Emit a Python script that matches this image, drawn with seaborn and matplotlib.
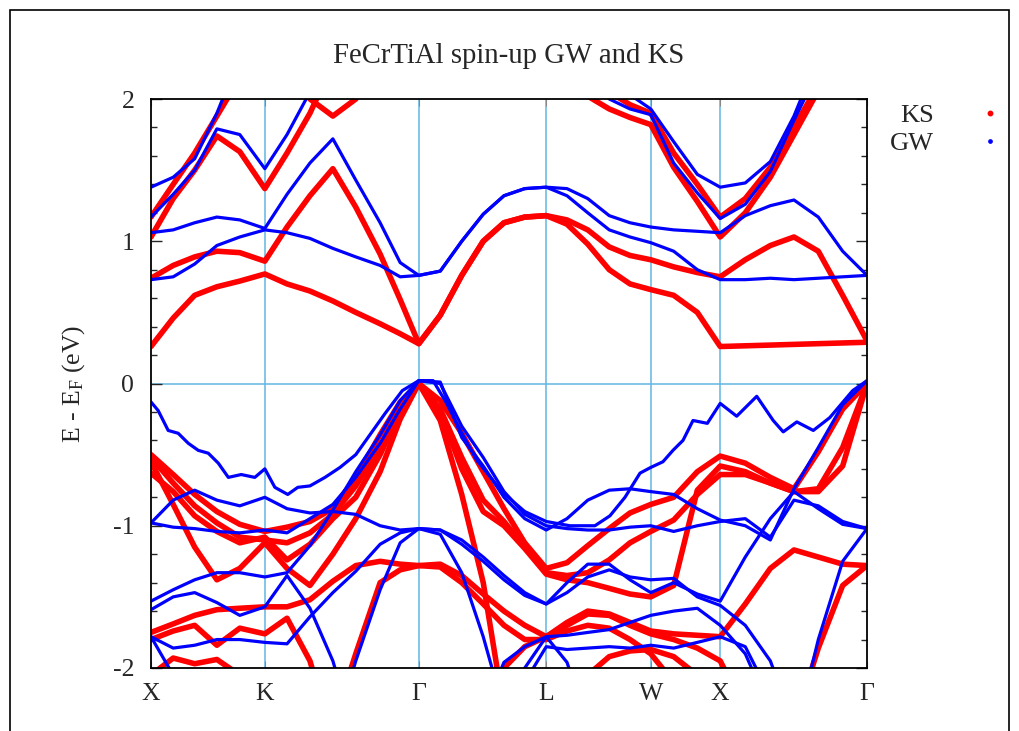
import numpy as np
import pandas as pd
import matplotlib
matplotlib.use("Agg")
import matplotlib.pyplot as plt
import seaborn as sns
from matplotlib.lines import Line2D
from matplotlib.patches import Rectangle
from matplotlib.ticker import MultipleLocator

_ = None

# ---------------- k-path ----------------
SYM_POS = [0.0, 0.1592, 0.3743, 0.5517, 0.6983, 0.7947, 1.0]
SYM_LABELS = ["X", "K", "Γ", "L", "W", "X", "Γ"]
K_GRID = [0.000, 0.031, 0.061, 0.092, 0.124, 0.159, 0.190, 0.222, 0.254, 0.286, 0.320,
          0.348, 0.374, 0.404, 0.434, 0.464, 0.493, 0.522, 0.552, 0.581, 0.610, 0.640,
          0.669, 0.698, 0.730, 0.763, 0.795, 0.830, 0.865, 0.898, 0.932, 0.966, 1.000]

# ---------------- KS bands (eV) ----------------
ks_c1 = [0.26, 0.46, 0.62, 0.68, 0.72, 0.77, 0.70, 0.65, 0.58, 0.50, 0.42, 0.35, 0.28, 0.48, 0.76, 1.00, 1.13,
         1.17, 1.18, 1.12, 0.98, 0.80, 0.70, 0.66, 0.62, 0.50, 0.26, 0.265, 0.27, 0.275, 0.28, 0.285, 0.29]
ks_c2 = [0.74, 0.83, 0.89, 0.93, 0.92, 0.86, 1.10, 1.32, 1.51, 1.24, 0.91, 0.59, 0.28, 0.48, 0.76, 1.00, 1.13,
         1.17, 1.18, 1.15, 1.08, 0.96, 0.90, 0.87, 0.82, 0.78, 0.75, 0.87, 0.97, 1.03, 0.93, 0.62, 0.30]
ks_c3 = [1.03, 1.30, 1.50, 1.74, 1.63, 1.37, 1.62, 1.90, 2.25] + [_] * 24
ks_c4 = [1.17, 1.40, 1.62, 1.88, 2.15] + [_] * 28
ks_c5 = [_] * 6 + [2.30, 2.00, 1.88, 2.00, 2.30] + [_] * 22
ks_c6 = [_] * 19 + [2.30, 2.02, 1.93, 1.87, 1.82, 1.52, 1.28, 1.03, 1.20, 1.45, 1.75, 2.06] + [_] * 2
ks_c7 = [_] * 20 + [2.20, 2.05, 1.96, 1.90, 1.62, 1.40, 1.17, 1.30, 1.52, 1.80, 2.10] + [_] * 2

ks_v1 = [-0.50, -0.64, -0.78, -0.90, -0.99, -1.04, -1.01, -0.97, -0.88, -0.66, -0.36, -0.13, 0.00, -0.12,
         -0.35, -0.62, -0.88, -1.12, -1.30, -1.26, -1.14, -1.02, -0.91, -0.85, -0.80, -0.62, -0.51, -0.56,
         -0.66, -0.74, -0.48, -0.18, 0.00]
ks_v2 = [-0.63, -0.76, -0.93, -1.04, -1.12, -1.08, -1.24, -1.13, -0.95, -0.80, -0.50, -0.20, 0.00, -0.18,
         -0.52, -0.82, -0.97, -1.15, -1.33, -1.35, -1.33, -1.24, -1.12, -1.04, -0.96, -0.78, -0.64, -0.64,
         -0.70, -0.76, -0.74, -0.45, 0.00]
ks_v3 = [-0.55, -0.85, -1.15, -1.38, -1.30, -1.12, -1.30, -1.42, -1.20, -0.95, -0.62, -0.25, 0.00, -0.26,
         -0.78, -1.40, -2.30] + [_] * 16
ks_v4 = [-1.75, -1.69, -1.63, -1.59, -1.58, -1.57, -1.57, -1.52, -1.39, -1.28, -1.25, -1.27, -1.28, -1.27,
         -1.35, -1.48, -1.60, -1.70, -1.78, -1.68, -1.60, -1.62, -1.68, -1.74, -1.76, -1.77, -1.78, -1.55,
         -1.30, -1.17, -1.22, -1.27, -1.28]
ks_v5a = [_] * 8 + [-2.40, -1.90, -1.40, -1.31, -1.28, -1.29, -1.40, -1.55, -1.70, -1.80, -1.80, -1.74,
                    -1.70, -1.72, -1.80, -1.90, -2.10, -2.40] + [_] * 7
ks_v5b = [_] * 29 + [-2.40, -1.86, -1.42, -1.28]
ks_v6 = [-0.52, -0.70, -0.86, -0.98, -1.08, -1.10, -1.12, -1.05, -0.92, -0.72, -0.45, -0.16, 0.00, -0.20,
         -0.60, -0.90, -1.00, -1.16, -1.34, -1.38, -1.40, -1.44, -1.48, -1.50, -1.42, -0.75, -0.58, -0.62,
         -0.70, -0.76, -0.76, -0.58, 0.00]
ks_v7 = [-1.80, -1.74, -1.70, -1.84, -1.72, -1.76, -1.65, -1.95, -2.50] + [_] * 24
ks_v8 = [-2.05, -1.93, -1.97, -1.94, -2.05, -2.30] + [_] * 27
ks_v9 = [_] * 15 + [-2.30, -2.00, -1.85, -1.78, -1.70, -1.62, -1.63, -1.70, -1.76, -1.80, -1.86, -1.95,
                    -2.30] + [_] * 5
ks_v10 = [_] * 19 + [-2.40, -2.05, -1.92, -1.88, -1.87, -1.92, -2.05, -2.30] + [_] * 6

# ---------------- GW bands (eV) ----------------
gw_c1 = [0.73, 0.75, 0.84, 0.97, 1.03, 1.08, 1.06, 1.02, 0.95, 0.89, 0.83, 0.75, 0.76, 0.79, 1.00, 1.19, 1.32,
         1.37, 1.38, 1.32, 1.20, 1.08, 1.03, 0.99, 0.93, 0.80, 0.73, 0.73, 0.74, 0.73, 0.74, 0.75, 0.76]
gw_c2 = [1.06, 1.08, 1.13, 1.17, 1.15, 1.09, 1.33, 1.55, 1.72, 1.43, 1.13, 0.85, 0.76, 0.79, 1.00, 1.19, 1.32,
         1.37, 1.38, 1.37, 1.30, 1.18, 1.13, 1.10, 1.08, 1.07, 1.06, 1.18, 1.25, 1.29, 1.17, 0.93, 0.76]
gw_c3 = [1.17, 1.33, 1.50, 1.79, 1.75, 1.51, 1.75, 2.05] + [_] * 25
gw_c4 = [1.38, 1.45, 1.58, 1.90, 2.30] + [_] * 28
gw_c5 = [_] * 20 + [2.20, 2.00, 1.93, 1.89, 1.55, 1.34, 1.16, 1.26, 1.49, 1.85, 2.20] + [_] * 2
gw_c6 = [_] * 21 + [2.20, 2.03, 1.93, 1.70, 1.47, 1.38, 1.41, 1.56, 1.88, 2.30] + [_] * 2

gw_v1_k = [0.000, 0.010, 0.024, 0.038, 0.052, 0.066, 0.080, 0.094, 0.108, 0.126, 0.145, 0.159, 0.173,
           0.191, 0.205, 0.222, 0.243, 0.264, 0.286, 0.303, 0.327, 0.351, 0.374, 0.394, 0.413, 0.432,
           0.455, 0.492, 0.522, 0.552, 0.585, 0.620, 0.641, 0.662, 0.683, 0.698, 0.715, 0.729, 0.743,
           0.757, 0.777, 0.795, 0.818, 0.846, 0.869, 0.883, 0.902, 0.925, 0.948, 0.980, 1.000]
gw_v1_e = [-0.13, -0.19, -0.33, -0.35, -0.42, -0.47, -0.49, -0.56, -0.66, -0.64, -0.66, -0.60, -0.73,
           -0.78, -0.73, -0.72, -0.66, -0.59, -0.50, -0.38, -0.21, -0.05, 0.02, 0.02, -0.14, -0.33,
           -0.54, -0.77, -0.90, -0.97, -1.00, -1.00, -0.93, -0.80, -0.63, -0.59, -0.55, -0.47, -0.40,
           -0.26, -0.28, -0.14, -0.23, -0.09, -0.26, -0.34, -0.27, -0.33, -0.24, -0.05, 0.02]
gw_v2 = [-0.98, -0.82, -0.75, -0.82, -0.86, -0.80, -0.88, -0.91, -0.90, -0.92, -1.00, -1.03, -1.02, -1.03,
         -1.13, -1.25, -1.38, -1.49, -1.55, -1.40, -1.27, -1.27, -1.38, -1.47, -1.40, -1.48, -1.53, -1.22,
         -0.95, -0.76, -0.88, -0.99, -1.02]
gw_v3 = [-1.53, -1.45, -1.38, -1.33, -1.33, -1.36, -1.33, -1.14, -0.89, -0.62, -0.36, -0.12, 0.02, 0.01,
         -0.38, -0.58, -0.80, -0.95, -1.03, -0.95, -0.82, -0.75, -0.74, -0.76, -0.78, -0.88, -0.96, -1.00,
         -1.10, -0.74, -0.45, -0.15, 0.02]
gw_v4 = [-0.98, -1.01, -1.02, -1.04, -1.05, -1.03, -1.05, -0.95, -0.85, -0.66, -0.42, -0.18, 0.02, 0.00,
         -0.30, -0.52, -0.76, -0.92, -1.00, -1.02, -1.03, -1.03, -1.01, -1.00, -1.04, -1.00, -0.97, -0.95,
         -1.08, -0.82, -0.86, -0.97, -1.02]
gw_v5a = [-1.78, -1.86, -1.84, -1.80, -1.80, -1.82, -1.83, -1.64, -1.47, -1.32, -1.13, -1.05, -1.02, -1.06,
          -1.33, -1.78, -2.30] + [_] * 16
gw_v5b = [_] * 29 + [-2.50, -1.80, -1.25, -1.02]
gw_v6 = [-1.59, -1.50, -1.47, -1.54, -1.63, -1.57, -1.35, -1.58, -1.95, -2.50] + [_] * 23
gw_v7 = [-1.78, -2.05, -2.50] + [_] * 30
gw_v8 = [_] * 15 + [-2.30, -1.96, -1.85, -1.78, -1.77, -1.75, -1.73, -1.68, -1.63, -1.60, -1.58, -1.70,
                    -1.90, -2.30] + [_] * 4
gw_v9 = [_] * 16 + [-2.40, -2.00, -1.78, -1.96, -2.40] + [_] * 12
gw_v10 = [_] * 16 + [-2.40, -2.10, -1.85, -1.87, -1.86, -1.85, -1.86, -1.84, -1.86, -1.82, -1.78, -1.85,
                     -2.20] + [_] * 4
gw_v11 = [_] * 8 + [-2.50, -1.95, -1.45, -1.12, -1.02, -1.03, -1.10, -1.22, -1.35, -1.47, -1.55, -1.47,
                    -1.36, -1.31, -1.36, -1.38, -1.37, -1.50, -1.56, -1.70, -1.95, -2.40] + [_] * 3

TITLE = "FeCrTiAl spin-up GW and KS"
YLABEL = r"E - E$_{\mathrm{F}}$ (eV)"
Y_TICKS = [-2, -1, 0, 1, 2]

KS_BANDS = {
    "c1": (K_GRID, ks_c1), "c2": (K_GRID, ks_c2), "c3": (K_GRID, ks_c3), "c4": (K_GRID, ks_c4),
    "c5": (K_GRID, ks_c5), "c6": (K_GRID, ks_c6), "c7": (K_GRID, ks_c7),
    "v1": (K_GRID, ks_v1), "v2": (K_GRID, ks_v2), "v3": (K_GRID, ks_v3), "v4": (K_GRID, ks_v4),
    "v5a": (K_GRID, ks_v5a), "v5b": (K_GRID, ks_v5b), "v6": (K_GRID, ks_v6), "v7": (K_GRID, ks_v7),
    "v8": (K_GRID, ks_v8), "v9": (K_GRID, ks_v9), "v10": (K_GRID, ks_v10),
}
GW_BANDS = {
    "c1": (K_GRID, gw_c1), "c2": (K_GRID, gw_c2), "c3": (K_GRID, gw_c3), "c4": (K_GRID, gw_c4),
    "c5": (K_GRID, gw_c5), "c6": (K_GRID, gw_c6),
    "v1": (gw_v1_k, gw_v1_e), "v2": (K_GRID, gw_v2), "v3": (K_GRID, gw_v3), "v4": (K_GRID, gw_v4),
    "v5a": (K_GRID, gw_v5a), "v5b": (K_GRID, gw_v5b), "v6": (K_GRID, gw_v6), "v7": (K_GRID, gw_v7),
    "v8": (K_GRID, gw_v8), "v9": (K_GRID, gw_v9), "v10": (K_GRID, gw_v10), "v11": (K_GRID, gw_v11),
}


def long_form(bands, method):
    rows = []
    for name, (ks, es) in bands.items():
        assert len(ks) == len(es), name
        for k, e in zip(ks, es):
            if e is not None:
                rows.append({"method": method, "band": name, "k": k, "E": e})
    return pd.DataFrame(rows)


df_ks = long_form(KS_BANDS, "KS")
df_gw = long_form(GW_BANDS, "GW")

sns.set_style("white")
plt.rcParams["font.family"] = ["Liberation Serif", "DejaVu Serif"]
plt.rcParams["mathtext.fontset"] = "custom"
plt.rcParams["mathtext.rm"] = "Liberation Serif"
plt.rcParams["mathtext.it"] = "Liberation Serif:italic"
plt.rcParams["axes.unicode_minus"] = False

GRID_COLOR = "#62b6e3"
RED = "#ff0000"
BLUE = "#0000ff"

fig = plt.figure(figsize=(10.19, 7.31), dpi=100)
fig.patch.set_facecolor("white")
ax = fig.add_axes([151 / 1019, 1 - 668 / 731, 716 / 1019, 569 / 731])
ax.set_facecolor("white")

for x in SYM_POS[1:-1]:
    ax.axvline(x, color=GRID_COLOR, lw=1.1, zorder=0.5)
ax.axhline(0, color=GRID_COLOR, lw=1.1, zorder=0.5)

sns.lineplot(data=df_ks, x="k", y="E", units="band", estimator=None, sort=False,
             color=RED, linewidth=4.0, ax=ax, legend=False,
             solid_capstyle="round", solid_joinstyle="round", zorder=2)
sns.lineplot(data=df_gw, x="k", y="E", units="band", estimator=None, sort=False,
             color=BLUE, linewidth=2.3, ax=ax, legend=False,
             solid_capstyle="round", solid_joinstyle="round", zorder=3)

ax.set_xlim(0, 1)
ax.set_ylim(-2, 2)
ax.set_xticks(SYM_POS)
ax.set_xticklabels(SYM_LABELS)
ax.set_yticks(Y_TICKS)
ax.set_yticklabels([str(t) for t in Y_TICKS])
ax.yaxis.set_minor_locator(MultipleLocator(0.2))
ax.tick_params(axis="x", which="major", direction="in", length=5, top=True, bottom=True,
               pad=11, labelsize=18.5, color="#888888")
ax.tick_params(axis="y", which="major", direction="in", length=8, left=True, right=True,
               pad=12, labelsize=18.5, width=1.0)
ax.tick_params(axis="y", which="minor", direction="in", length=4, left=True, right=True, width=1.0)
ax.set_xlabel("")
ax.set_ylabel(YLABEL, fontsize=18.5)
ax.yaxis.set_label_coords(-0.090, 0.5)
ax.set_title(TITLE, fontsize=20.7, pad=26)

for sp in ax.spines.values():
    sp.set_color("black")
    sp.set_linewidth(1.3)
    sp.set_zorder(5)

handles = [Line2D([], [], ls="", marker="o", color=RED, markersize=3.2),
           Line2D([], [], ls="", marker="o", color=BLUE, markersize=2.4)]
fig.legend(handles, ["KS", "GW"], loc="upper right", bbox_to_anchor=(997 / 1019, 1 - 104 / 731),
           frameon=False, markerfirst=False, handlelength=0.5, handletextpad=1.9,
           labelspacing=0.15, borderpad=0, borderaxespad=0, fontsize=19)

fig.add_artist(Rectangle((10 / 1019, -0.1), 999 / 1019, 1 - 10 / 731 + 0.1, transform=fig.transFigure,
                         fill=False, edgecolor="black", lw=1.2))

fig.savefig("out.png", dpi=100, facecolor="white")
